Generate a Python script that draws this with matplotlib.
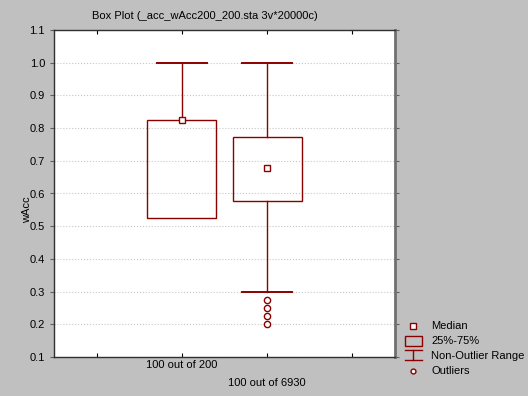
import matplotlib.pyplot as plt
from matplotlib.patches import Rectangle
from matplotlib.lines import Line2D

# box plot summary values
groups = ['100 out of 200', '100 out of 6930']
positions = [1, 2]
medians = [0.825, 0.677]
q1 = [0.525, 0.576]
q3 = [0.825, 0.774]
whisk_lo = [0.525, 0.30]
whisk_hi = [1.0, 1.0]
outliers = [[], [0.275, 0.25, 0.225, 0.2]]

red = '#8b0000'
bg = '#c0c0c0'
fs = 8

plt.rcParams['font.family'] = ['Liberation Sans', 'DejaVu Sans']

fig = plt.figure(figsize=(5.28, 3.96), dpi=100, facecolor=bg)
ax = fig.add_axes([54/528, 39/396, 341/528, 327/396])
ax.set_facecolor('white')

boxw = 0.81
capw = 0.58
for i in range(len(groups)):
    x = positions[i]
    ax.add_patch(Rectangle((x - boxw/2, q1[i]), boxw, q3[i] - q1[i],
                           fill=False, edgecolor=red, lw=1.0, zorder=3))
    if whisk_hi[i] > q3[i]:
        ax.plot([x, x], [q3[i], whisk_hi[i]], color=red, lw=1.0, zorder=3)
    ax.plot([x - capw/2, x + capw/2], [whisk_hi[i]] * 2, color=red, lw=1.4, zorder=3)
    if whisk_lo[i] < q1[i]:
        ax.plot([x, x], [whisk_lo[i], q1[i]], color=red, lw=1.0, zorder=3)
        ax.plot([x - capw/2, x + capw/2], [whisk_lo[i]] * 2, color=red, lw=1.4, zorder=3)
    ax.plot([x], [medians[i]], marker='s', ms=4.5, mfc='white', mec=red, mew=1.0,
            ls='none', zorder=4)
    if outliers[i]:
        ax.plot([x] * len(outliers[i]), outliers[i], marker='o', ms=4.5, mfc='white',
                mec=red, mew=1.0, ls='none', zorder=4)

ax.set_xlim(-0.5, 3.5)
ax.set_ylim(0.1, 1.1)
ax.set_yticks([0.1 * k for k in range(1, 12)])
ax.set_yticklabels(['%.1f' % (0.1 * k) for k in range(1, 12)], fontsize=fs)
ax.set_xticks([0, 1, 2, 3])
ax.set_xticklabels([])
ax.tick_params(axis='x', direction='in', length=3, top=True, bottom=True, color='black')
ax.tick_params(axis='y', direction='out', length=3, left=True, right=True, color='#606060')
ax.grid(axis='y', color='#c8c8c8', ls=':', lw=0.8)
ax.set_axisbelow(True)
for s in ['left', 'top', 'bottom']:
    ax.spines[s].set_color('#303030')
    ax.spines[s].set_linewidth(1.0)
ax.spines['right'].set_color('#707070')
ax.spines['right'].set_linewidth(2.0)

# staggered category labels
ax.text(positions[0], -0.01, groups[0], transform=ax.get_xaxis_transform(),
        ha='center', va='top', fontsize=fs)
ax.text(positions[1], -0.063, groups[1], transform=ax.get_xaxis_transform(),
        ha='center', va='top', fontsize=fs)

fig.text(205/528, 1 - 16/396, 'Box Plot (_acc_wAcc200_200.sta 3v*20000c)',
         ha='center', va='center', fontsize=fs)
fig.text(27/528, 1 - 210/396, 'wAcc', rotation=90, ha='center', va='center', fontsize=fs)

# legend drawn by hand
lx = 413 / 528
tx = 431 / 528
fig.lines.append(Line2D([lx], [1 - 326/396], marker='s', ms=4, mfc='white', mec=red,
                        mew=1.0, ls='none', transform=fig.transFigure))
fig.text(tx, 1 - 326/396, 'Median', va='center', fontsize=fs)
fig.patches.append(Rectangle((405/528, 1 - 346/396), 17/528, 10/396, fill=False,
                             edgecolor=red, lw=1.0, transform=fig.transFigure))
fig.text(tx, 1 - 341/396, '25%-75%', va='center', fontsize=fs)
fig.lines.append(Line2D([405/528, 422/528], [1 - 350/396] * 2, color=red, lw=1.0,
                        transform=fig.transFigure))
fig.lines.append(Line2D([lx, lx], [1 - 350/396, 1 - 360/396], color=red, lw=1.0,
                        transform=fig.transFigure))
fig.lines.append(Line2D([405/528, 422/528], [1 - 360/396] * 2, color=red, lw=1.0,
                        transform=fig.transFigure))
fig.text(tx, 1 - 356/396, 'Non-Outlier Range', va='center', fontsize=fs)
fig.lines.append(Line2D([lx], [1 - 371/396], marker='o', ms=3.5, mfc='white', mec=red,
                        mew=1.0, ls='none', transform=fig.transFigure))
fig.text(tx, 1 - 371/396, 'Outliers', va='center', fontsize=fs)

fig.savefig('out.png', dpi=100, facecolor=bg)
